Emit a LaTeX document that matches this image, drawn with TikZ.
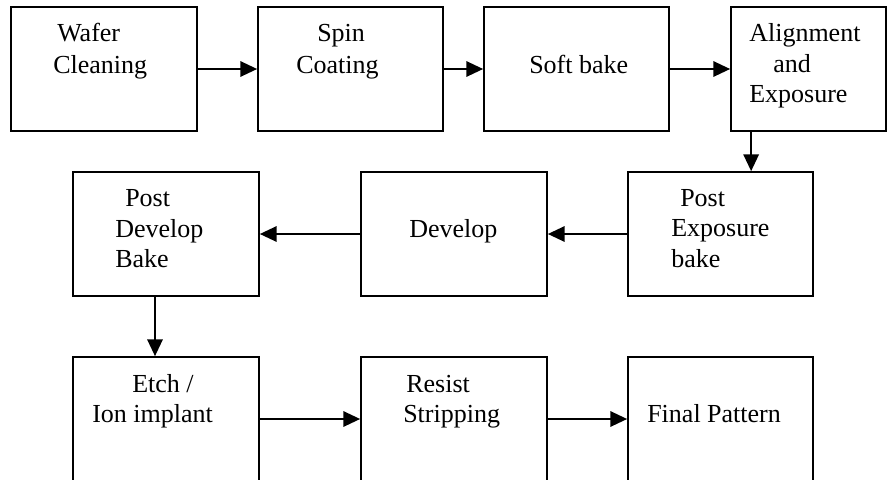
\documentclass[tikz,border=0pt]{standalone}
\usepackage{fontspec}
\setmainfont{Liberation Serif}
\usetikzlibrary{arrows.meta}
\begin{document}
\begin{tikzpicture}[x=0.75pt,y=-0.75pt,
  box/.style={draw,line width=1.3pt,rectangle,inner sep=0pt,minimum height=93pt},
  txt/.style={anchor=base west,inner sep=0pt,font=\fontsize{19.5pt}{23pt}\selectfont},
  arr/.style={line width=1.3pt,-{Triangle[length=12.5pt,width=11.5pt]}}]
\useasboundingbox (0,0) rectangle (888,479);
% row 1
\node[box,minimum width=139.5pt] (wc) at (104,69) {};
\node[box,minimum width=138.75pt] (sc) at (350.5,69) {};
\node[box,minimum width=138.75pt] (sb) at (576.5,69) {};
\node[box,minimum width=116.25pt] (ae) at (808.5,69) {};
% row 2
\node[box,minimum width=139.5pt] (pdb) at (166,234) {};
\node[box,minimum width=139.5pt] (dev) at (454,234) {};
\node[box,minimum width=138.75pt] (peb) at (720.5,234) {};
% row 3
\node[box,minimum width=139.5pt] (eti) at (166,419) {};
\node[box,minimum width=139.5pt] (rs) at (454,419) {};
\node[box,minimum width=138.75pt] (fp) at (720.5,419) {};
% texts
\node[txt] (t1a) at (57,41) {Wafer};
\node[txt] (t1b) at (53,73) {Cleaning};
\node[txt] (t2a) at (317,41) {Spin};
\node[txt] (t2b) at (296,73) {Coating};
\node[txt] (t3) at (529,73) {Soft bake};
\node[txt] (t4a) at (749,41) {Alignment};
\node[txt] (t4b) at (773,72) {and};
\node[txt] (t4c) at (749,102) {Exposure};
\node[txt] (t5a) at (680,206) {Post};
\node[txt] (t5b) at (671,236) {Exposure};
\node[txt] (t5c) at (671,267) {bake};
\node[txt] (t6) at (409,237) {Develop};
\node[txt] (t7a) at (125,206) {Post};
\node[txt] (t7b) at (115,237) {Develop};
\node[txt] (t7c) at (115,267) {Bake};
\node[txt] (t8a) at (132,392) {Etch /};
\node[txt] (t8b) at (92,422) {Ion implant};
\node[txt] (t9a) at (406,392) {Resist};
\node[txt] (t9b) at (403,422) {Stripping};
\node[txt] (t10) at (647,422) {Final Pattern};
% connectors
\draw[arr] (wc.east) -- (sc.west);
\draw[arr] (sc.east) -- (sb.west);
\draw[arr] (sb.east) -- (ae.west);
\draw[arr] ([xshift=15.75pt]ae.south west) -- ([xshift=15.75pt]ae.south west |- peb.north);
\draw[arr] (peb.west) -- (dev.east);
\draw[arr] (dev.west) -- (pdb.east);
\draw[arr] ([xshift=-8.25pt]pdb.south) -- ([xshift=-8.25pt]eti.north);
\draw[arr] (eti.east) -- (rs.west);
\draw[arr] (rs.east) -- (fp.west);
\end{tikzpicture}
\end{document}
